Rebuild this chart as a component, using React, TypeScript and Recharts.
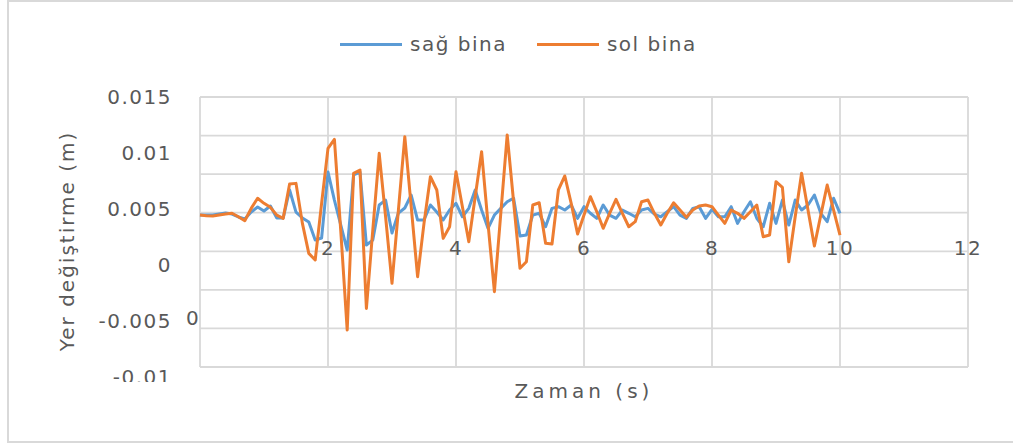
import { LineChart, Line, XAxis, YAxis, CartesianGrid, Legend, Label } from 'recharts'

const FONT = "'DejaVu Sans', sans-serif"
const TEXT = '#595959'

// zaman (s)
const TIME = [
  0, 0.1, 0.2, 0.3, 0.4, 0.5, 0.6, 0.7, 0.8, 0.9,
  1, 1.1, 1.2, 1.3, 1.4, 1.5, 1.6, 1.7, 1.8, 1.9,
  2, 2.1, 2.2, 2.3, 2.4, 2.5, 2.6, 2.7, 2.8, 2.9,
  3, 3.1, 3.2, 3.3, 3.4, 3.5, 3.6, 3.7, 3.8, 3.9,
  4, 4.1, 4.2, 4.3, 4.4, 4.5, 4.6, 4.7, 4.8, 4.9,
  5, 5.1, 5.2, 5.3, 5.4, 5.5, 5.6, 5.7, 5.8, 5.9,
  6, 6.1, 6.2, 6.3, 6.4, 6.5, 6.6, 6.7, 6.8, 6.9,
  7, 7.1, 7.2, 7.3, 7.4, 7.5, 7.6, 7.7, 7.8, 7.9,
  8, 8.1, 8.2, 8.3, 8.4, 8.5, 8.6, 8.7, 8.8, 8.9,
  9, 9.1, 9.2, 9.3, 9.4, 9.5, 9.6, 9.7, 9.8, 9.9, 10,
]

// sağ bina (m)
const SAG = [
  0.00446, 0.00446, 0.00446, 0.00455, 0.00464, 0.00455, 0.00429, 0.00411, 0.00473, 0.00518,
  0.00482, 0.00527, 0.0042, 0.0042, 0.0067, 0.00473, 0.0042, 0.00384, 0.00223, 0.00241,
  0.0083, 0.0058, 0.00357, 0.00134, 0.00804, 0.0083, 0.00179, 0.00223, 0.00536, 0.0058,
  0.00286, 0.00464, 0.00509, 0.00625, 0.00402, 0.00402, 0.00536, 0.00473, 0.00402, 0.00491,
  0.00551, 0.00431, 0.00506, 0.0067, 0.00491, 0.00328, 0.00446, 0.00506, 0.00565, 0.00596,
  0.00259, 0.00268, 0.00446, 0.00462, 0.00342, 0.00506, 0.00521, 0.00491, 0.00536, 0.00417,
  0.00521, 0.00462, 0.00417, 0.00536, 0.00446, 0.00417, 0.00491, 0.00462, 0.00431, 0.00491,
  0.00506, 0.00455, 0.00431, 0.00476, 0.00521, 0.00446, 0.00417, 0.00506, 0.00521, 0.00417,
  0.00497, 0.00431, 0.00431, 0.00521, 0.00372, 0.00476, 0.00565, 0.00417, 0.00342, 0.00551,
  0.00372, 0.0058, 0.00357, 0.0058, 0.00491, 0.00536, 0.00625, 0.00462, 0.00387, 0.00596, 0.00462,
]

// sol bina (m)
const SOL = [
  0.00446, 0.0044, 0.00438, 0.00446, 0.00455, 0.00462, 0.00431, 0.00396, 0.00506, 0.00596,
  0.00551, 0.00515, 0.00446, 0.00417, 0.00723, 0.00729, 0.00372, 0.00104, 0.00045, 0.0055,
  0.01042, 0.01122, 0.003, -0.0058, 0.00819, 0.00848, -0.00387, 0.00313, 0.00997, 0.00431,
  -0.00163, 0.00491, 0.01146, 0.00521, -0.00104, 0.00372, 0.00788, 0.0067, 0.00238, 0.00342,
  0.00833, 0.00521, 0.00208, 0.0061, 0.01012, 0.00372, -0.00238, 0.00462, 0.01161, 0.00565,
  -0.00029, 0.00029, 0.00536, 0.00556, 0.00194, 0.00188, 0.0067, 0.00795, 0.00551, 0.00277,
  0.00446, 0.0061, 0.00476, 0.00328, 0.00462, 0.00587, 0.00462, 0.00342, 0.00387, 0.00565,
  0.0058, 0.00462, 0.00357, 0.00462, 0.00556, 0.00491, 0.00426, 0.00491, 0.00527, 0.00536,
  0.00521, 0.00446, 0.00372, 0.00491, 0.00462, 0.00417, 0.00476, 0.00536, 0.00253, 0.00268,
  0.00744, 0.00694, 0.00029, 0.00431, 0.00819, 0.00491, 0.0017, 0.00446, 0.00714, 0.00491, 0.00268,
]

const X_TICKS = [0, 2, 4, 6, 8, 10, 12]
const Y_TICKS = [0.015, 0.01, 0.005, 0, -0.005, -0.01]
// the picture has 7 bands of horizontal grid, not matched to the labels
const GRID_ROWS = [0, 1, 2, 3, 4, 5, 6, 7]

const SERIES = [
  { key: 'sag', name: 'sağ bina', color: '#5B9BD5' },
  { key: 'sol', name: 'sol bina', color: '#ED7D31' },
]

const data = TIME.map((t, i) => ({ t, sag: SAG[i], sol: SOL[i] }))

function TimeTick({ x, y, payload }: any) {
  const first = payload.value === 0
  return (
    <text
      x={first ? x - 7 : x}
      y={first ? y - 49 : y - 119}
      textAnchor="middle"
      dominantBaseline="central"
      fill={TEXT}
      fontFamily={FONT}
      fontSize={20}
      letterSpacing={1.5}
    >
      {payload.value}
    </text>
  )
}

// lowest label is cut off at its middle in the original
function ValueTick({ x, y, payload }: any) {
  const cut = payload.value === Y_TICKS[Y_TICKS.length - 1]
  const id = 'ytick-cut'
  return (
    <g clipPath={cut ? `url(#${id})` : undefined}>
      {cut && (
        <defs>
          <clipPath id={id}>
            <rect x={x - 120} y={y - 20} width={130} height={25} />
          </clipPath>
        </defs>
      )}
      <text
        x={x}
        y={y}
        textAnchor="end"
        dominantBaseline="central"
        fill={TEXT}
        fontFamily={FONT}
        fontSize={20}
        letterSpacing={1.5}
      >
        {payload.value}
      </text>
    </g>
  )
}

function renderLegend() {
  return (
    <div style={{ display: 'flex', alignItems: 'center', fontFamily: FONT, fontSize: 20, letterSpacing: 1.5, color: TEXT, lineHeight: '26px' }}>
      {SERIES.map((s) => (
        <div key={s.key} style={{ display: 'flex', alignItems: 'center', marginRight: 30 }}>
          <span style={{ display: 'inline-block', width: 62, height: 3, background: s.color, marginRight: 8 }} />
          <span>{s.name}</span>
        </div>
      ))}
    </div>
  )
}

const gridRows = ({ offset }: any) => {
  const last = GRID_ROWS[GRID_ROWS.length - 1]
  return GRID_ROWS.map((r) => offset.top + (offset.height * r) / last)
}

export default function App() {
  return (
    <div style={{ position: 'absolute', left: 0, top: 0, width: 1013, height: 445, overflow: 'hidden', background: '#fff' }}>
      <div style={{ position: 'absolute', left: 7, top: 0, width: 1020, height: 443, border: '2px solid #d9d9d9', boxSizing: 'border-box' }} />
      <div style={{ position: 'absolute', left: 0, top: 0 }}>
        <LineChart width={1013} height={445} data={data} margin={{ top: 97, right: 45, bottom: 0, left: 60 }}>
          <CartesianGrid yAxisId="v" stroke="#d9d9d9" strokeWidth={1.8} horizontalCoordinatesGenerator={gridRows} />
          <XAxis
            dataKey="t"
            type="number"
            domain={[0, 12]}
            ticks={X_TICKS}
            interval={0}
            height={78}
            axisLine={false}
            tickLine={false}
            tickSize={0}
            tickMargin={0}
            tick={<TimeTick />}
          >
            <Label
              value="Zaman (s)"
              position="insideBottom"
              offset={47}
              fill={TEXT}
              fontFamily={FONT}
              fontSize={20}
              letterSpacing={4}
            />
          </XAxis>
          <YAxis
            yAxisId="v"
            type="number"
            domain={[-0.0091, 0.015]}
            allowDataOverflow
            ticks={Y_TICKS}
            interval={0}
            width={140}
            axisLine={false}
            tickLine={false}
            tickSize={0}
            tickMargin={28}
            tick={<ValueTick />}
          >
            <Label
              content={({ viewBox }: any) => (
                <text
                  x={viewBox.x + 7}
                  y={viewBox.y + viewBox.height / 2 + 9}
                  transform={`rotate(-90 ${viewBox.x + 7} ${viewBox.y + viewBox.height / 2 + 9})`}
                  textAnchor="middle"
                  dominantBaseline="central"
                  fill={TEXT}
                  fontFamily={FONT}
                  fontSize={20}
                  letterSpacing={2}
                >
                  Yer değiştirme (m)
                </text>
              )}
            />
          </YAxis>
          <Legend
            layout="horizontal"
            verticalAlign="middle"
            align="center"
            content={renderLegend}
            wrapperStyle={{ top: 31, left: 340, width: 420 }}
          />
          {SERIES.map((s) => (
            <Line
              key={s.key}
              yAxisId="v"
              type="linear"
              dataKey={s.key}
              name={s.name}
              stroke={s.color}
              strokeWidth={3}
              strokeLinejoin="round"
              dot={false}
              activeDot={false}
              isAnimationActive={false}
            />
          ))}
        </LineChart>
      </div>
    </div>
  )
}
